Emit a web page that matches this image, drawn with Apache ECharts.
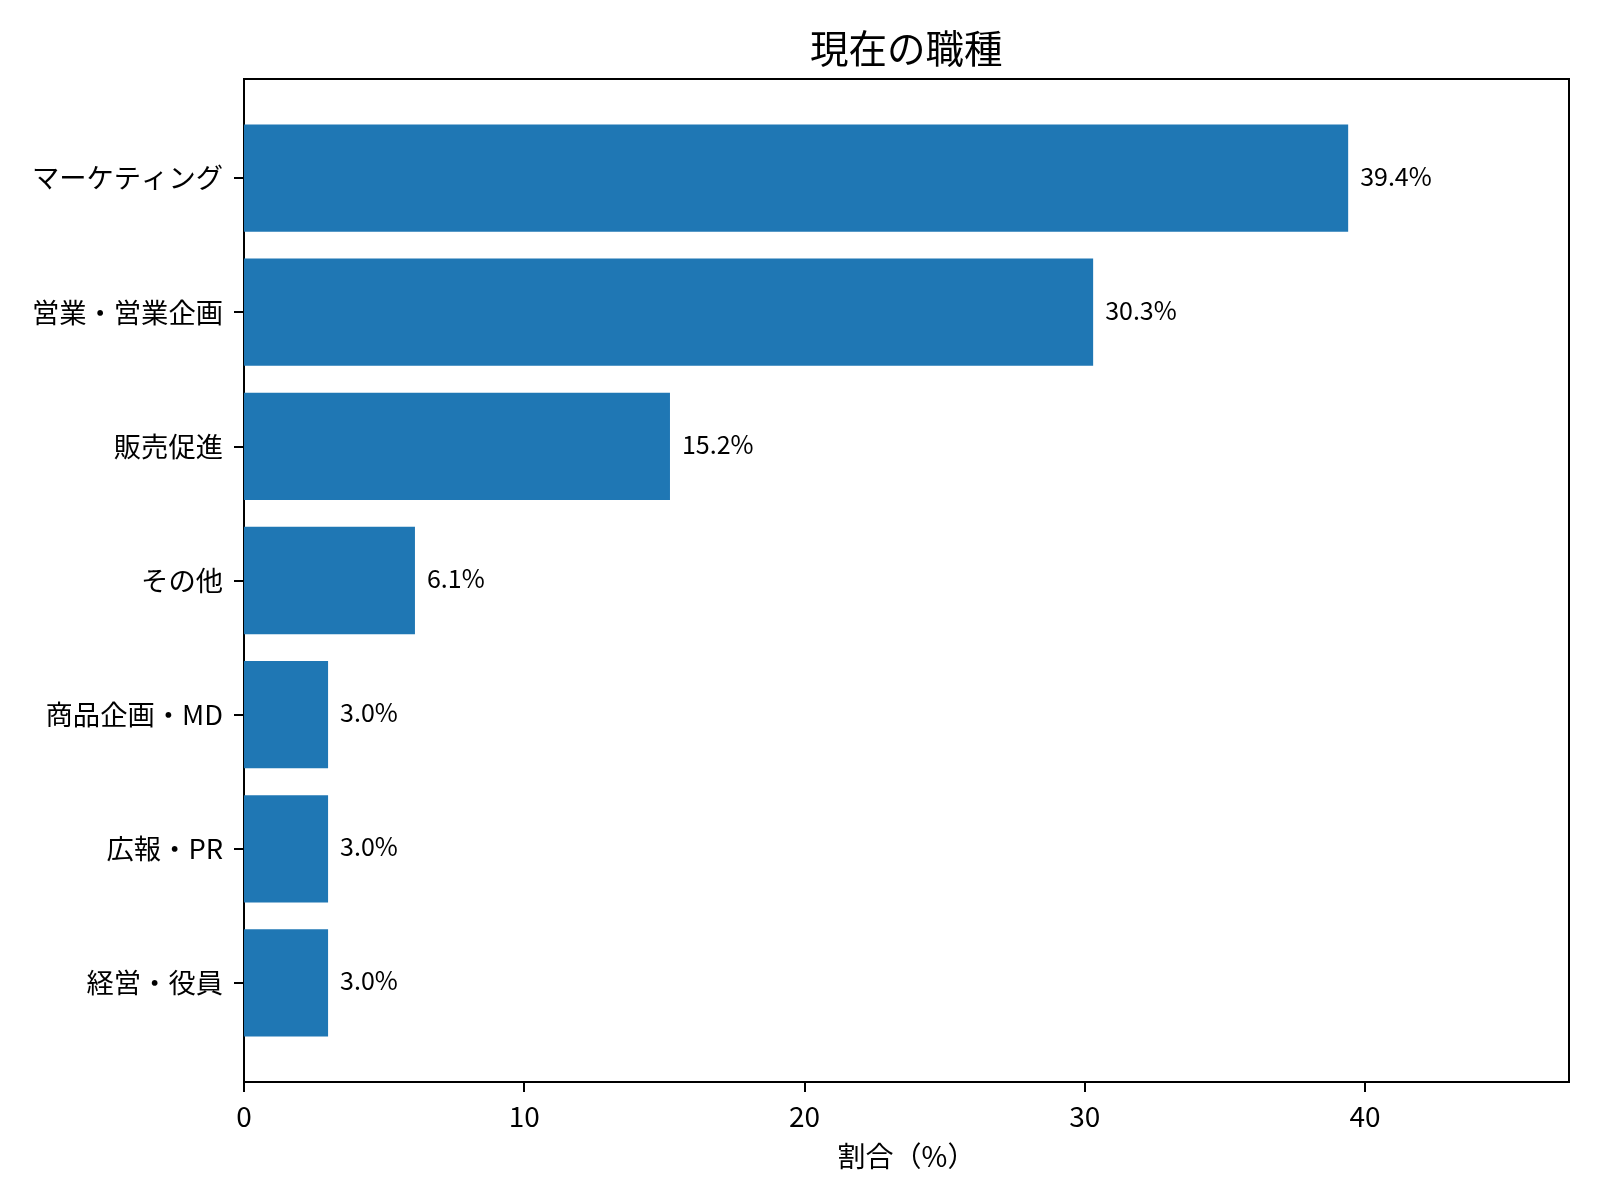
<!DOCTYPE html>
<html>
<head>
<meta charset="utf-8">
<script src="https://cdn.jsdelivr.net/npm/echarts@6/dist/echarts.min.js"></script>
<style>
  html, body { margin: 0; padding: 0; background: #fff; }
  #main-chart { width: 1600px; height: 1200px; }
</style>
</head>
<body>
<div id="main-chart"></div>
<script>
const categories = ['マーケティング', '営業・営業企画', '販売促進', 'その他', '商品企画・MD', '広報・PR', '経営・役員'];
const shares = [39.4, 30.3, 15.2, 6.1, 3.0, 3.0, 3.0];
const xMax = 47.28;

const barColor = '#1f77b4';
const font = 'Noto Sans CJK JP';

const chart = echarts.init(document.getElementById('main-chart'));

const option = {
    backgroundColor: '#fff',
    textStyle: { fontFamily: font, color: '#000' },
    animation: false,
    title: {
        text: '現在の職種',
        left: 810,
        top: 29,
        padding: 0,
        textStyle: { fontFamily: font, fontSize: 38.5, fontWeight: 'normal', color: '#000' }
    },
    grid: [
        // frame box
        { left: 244, right: 31, top: 79, bottom: 118, show: true, borderColor: '#000', borderWidth: 2, backgroundColor: 'transparent' },
        // band area (inset like matplotlib margins)
        { left: 244, right: 31, top: 111, bottom: 150 }
    ],
    xAxis: [
        {
            gridIndex: 0,
            type: 'value',
            min: 0,
            max: xMax,
            interval: 10,
            axisLine: { show: true, lineStyle: { color: '#000', width: 2 } },
            axisTick: { show: true, inside: false, length: 10, lineStyle: { color: '#000', width: 2 } },
            axisLabel: { fontSize: 28, color: '#000', margin: 20, fontFamily: font, showMaxLabel: false },
            splitLine: { show: false },
            name: '割合（%）',
            nameLocation: 'middle',
            nameGap: 60,
            nameTextStyle: { fontSize: 28, color: '#000', fontFamily: font }
        },
        {
            gridIndex: 1,
            type: 'value',
            min: 0,
            max: xMax,
            show: false
        }
    ],
    yAxis: [
        {
            gridIndex: 0,
            type: 'value',
            min: 0,
            max: 1,
            show: false
        },
        {
            gridIndex: 1,
            type: 'category',
            data: categories,
            inverse: true,
            axisLine: { show: true, lineStyle: { color: '#000', width: 2 } },
            axisTick: { show: true, alignWithLabel: true, length: 10, lineStyle: { color: '#000', width: 2 } },
            axisLabel: { fontSize: 27.3, color: '#000', margin: 21, fontFamily: font },
            splitLine: { show: false }
        }
    ],
    series: [
        {
            type: 'bar',
            xAxisIndex: 1,
            yAxisIndex: 1,
            data: shares,
            barWidth: '80%',
            itemStyle: { color: barColor },
            label: {
                show: true,
                position: 'right',
                distance: 12,
                offset: [0, -2],
                fontSize: 25,
                color: '#000',
                fontFamily: font,
                formatter: p => p.value.toFixed(1) + '%'
            }
        }
    ]
};

chart.setOption(option);
</script>
</body>
</html>
